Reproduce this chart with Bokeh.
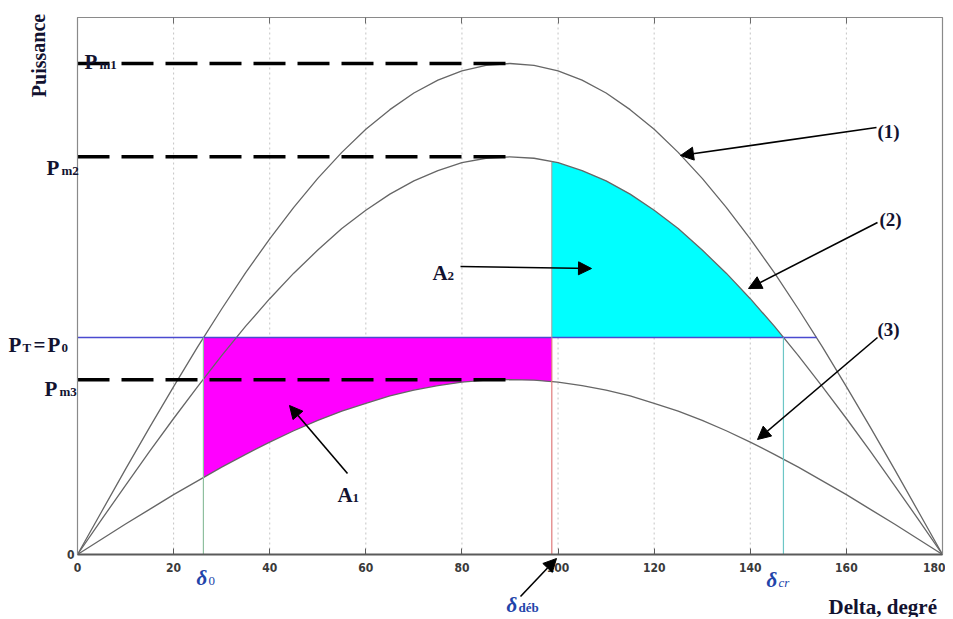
from bokeh.plotting import figure
from bokeh.models import Label, Arrow, NormalHead, FixedTicker, LinearAxis
from bokeh.embed import file_html
from bokeh.resources import INLINE

# ---------------- data ----------------
delta = list(range(0, 181, 5))
curve1 = [0.000, 0.087, 0.174, 0.259, 0.342, 0.423, 0.500, 0.574, 0.643, 0.707,
          0.766, 0.819, 0.866, 0.906, 0.940, 0.966, 0.985, 0.996, 1.000,
          0.996, 0.985, 0.966, 0.940, 0.906, 0.866, 0.819, 0.766, 0.707,
          0.643, 0.574, 0.500, 0.423, 0.342, 0.259, 0.174, 0.087, 0.000]
curve2 = [0.000, 0.071, 0.141, 0.210, 0.277, 0.342, 0.405, 0.465, 0.521, 0.573,
          0.620, 0.664, 0.701, 0.734, 0.761, 0.782, 0.798, 0.807, 0.810,
          0.807, 0.798, 0.782, 0.761, 0.734, 0.701, 0.664, 0.620, 0.573,
          0.521, 0.465, 0.405, 0.342, 0.277, 0.210, 0.141, 0.071, 0.000]
curve3 = [0.000, 0.031, 0.062, 0.092, 0.122, 0.150, 0.178, 0.204, 0.229, 0.252,
          0.273, 0.292, 0.308, 0.323, 0.335, 0.344, 0.351, 0.355, 0.356,
          0.355, 0.351, 0.344, 0.335, 0.323, 0.308, 0.292, 0.273, 0.252,
          0.229, 0.204, 0.178, 0.150, 0.122, 0.092, 0.062, 0.031, 0.000]
Pm1, Pm2, Pm3, P0 = 1.0, 0.81, 0.356, 0.442
delta_0, delta_deb, delta_cr, delta_pt_end = 26.2, 98.7, 146.9, 153.8
curve3_at_d0, curve3_at_deb, curve2_at_deb = 0.157, 0.352, 0.800
x_ticks = [0, 20, 40, 60, 80, 100, 120, 140, 160, 180]
y_ticks = [0]
X_MIN, X_MAX = 0, 180
Y_MIN, Y_MAX = 0, 537 / 491

# ---------------- layout: the frame fills the canvas so that texts in the
# margins are not clipped; the plot box sits inside it ----------------
W, H = 945, 617
BOX_L, BOX_R, BOX_T, BOX_B = 77, 942, 17, 554          # canvas pixels
sx = (BOX_R - BOX_L) / (X_MAX - X_MIN)
sy = (BOX_B - BOX_T) / (Y_MAX - Y_MIN)
x_range = (X_MIN - BOX_L / sx, X_MAX + (W - BOX_R) / sx)
y_range = (Y_MIN - (H - BOX_B) / sy, Y_MAX + BOX_T / sy)

p = figure(width=W, height=H, x_range=x_range, y_range=y_range,
           output_backend="svg", toolbar_location=None,
           x_axis_location=None, y_axis_location=None, min_border=0)
p.outline_line_color = None
p.background_fill_color = "white"
p.border_fill_color = "white"
p.xgrid.visible = False
p.ygrid.visible = False

# dotted vertical grid lines at the x ticks
grid_x = x_ticks[1:-1]
p.segment(x0=grid_x, y0=[Y_MIN] * len(grid_x), x1=grid_x, y1=[Y_MAX] * len(grid_x),
          line_color="#c4c4c4", line_dash="2 3", line_width=1)

TICK_FONT = "DejaVu Sans Condensed"

bottom = LinearAxis(ticker=FixedTicker(ticks=x_ticks), fixed_location=Y_MIN,
                    bounds=(X_MIN, X_MAX), major_tick_in=6, major_tick_out=0,
                    minor_tick_line_color=None, axis_line_color="#5a5a5a",
                    axis_line_width=2, major_tick_line_color="#5a5a5a",
                    major_label_text_font=TICK_FONT,
                    major_label_text_font_style="bold",
                    major_label_text_font_size="12px",
                    major_label_text_color="#3a3a3a", major_label_standoff=8)
p.add_layout(bottom, "below")

top = LinearAxis(ticker=FixedTicker(ticks=x_ticks), fixed_location=Y_MAX,
                 bounds=(X_MIN, X_MAX), major_tick_in=6, major_tick_out=0,
                 minor_tick_line_color=None, axis_line_color="#8a8a8a",
                 axis_line_width=1.2, major_tick_line_color="#6a6a6a",
                 major_label_overrides={t: "" for t in x_ticks},
                 major_label_standoff=0)
p.add_layout(top, "above")

left = LinearAxis(ticker=FixedTicker(ticks=y_ticks), fixed_location=X_MIN,
                  bounds=(Y_MIN, Y_MAX), major_tick_in=0, major_tick_out=0,
                  minor_tick_line_color=None, axis_line_color="#8a8a8a",
                  axis_line_width=1.2, major_label_text_font=TICK_FONT,
                  major_label_text_font_style="bold",
                  major_label_text_font_size="12px",
                  major_label_text_color="#3a3a3a", major_label_standoff=3)
p.add_layout(left, "left")

right = LinearAxis(ticker=FixedTicker(ticks=[]), fixed_location=X_MAX,
                   bounds=(Y_MIN, Y_MAX), major_tick_in=0, major_tick_out=0,
                   minor_tick_line_color=None, axis_line_color="#8a8a8a",
                   axis_line_width=1.2, major_label_text_font_size="0px")
p.add_layout(right, "right")

# ---------------- filled areas ----------------
mx = [delta_0] + [d for d in delta if delta_0 < d < delta_deb] + [delta_deb]
my = [curve3_at_d0] + [c for d, c in zip(delta, curve3) if delta_0 < d < delta_deb] + [curve3_at_deb]
p.varea(x=mx, y1=my, y2=[P0] * len(mx), fill_color="#ff00ff")

cx = [delta_deb] + [d for d in delta if delta_deb < d < delta_cr] + [delta_cr]
cy = [curve2_at_deb] + [c for d, c in zip(delta, curve2) if delta_deb < d < delta_cr] + [P0]
p.varea(x=cx, y1=[P0] * len(cx), y2=cy, fill_color="#00ffff")

# ---------------- curves ----------------
for c in (curve1, curve2, curve3):
    p.line(delta, c, line_color="#666666", line_width=1.3)

# P_T = P_0 line
p.line([X_MIN, delta_pt_end], [P0, P0], line_color="#4a4ad0", line_width=1.3)

# vertical markers
p.segment(x0=[delta_0], y0=[0], x1=[delta_0], y1=[P0], line_color="#8fbf9f", line_width=1.2)
p.segment(x0=[delta_deb], y0=[0], x1=[delta_deb], y1=[P0], line_color="#e07a7a", line_width=1.2)
p.segment(x0=[delta_deb], y0=[P0], x1=[delta_deb], y1=[curve2_at_deb], line_color="#a0a0a0", line_width=1)
p.segment(x0=[delta_cr], y0=[0], x1=[delta_cr], y1=[P0], line_color="#6cc6c6", line_width=1.2)

# dashed maximum lines
for pm in (Pm1, Pm2, Pm3):
    p.line([X_MIN, 90], [pm, pm], line_color="black", line_width=3.5, line_dash="32 12")

# ---------------- texts (canvas pixel placement) ----------------
TXT = "#121230"
BLUE = "#2244aa"


def lab(px, py, text, size=21, color=TXT, style="bold", font="Liberation Serif",
        align="left", baseline="alphabetic", angle=0):
    p.add_layout(Label(x=px, y=py, x_units="canvas", y_units="canvas", text=text,
                       text_font=font, text_font_style=style,
                       text_font_size=f"{size}px", text_color=color,
                       text_align=align, text_baseline=baseline, angle=angle))


# P labels with subscripts
lab(84, 61, "P"); lab(99, 64, "m1", size=13)
lab(46, 167, "P"); lab(61, 170, "m2", size=13)
lab(8, 344, "P"); lab(22, 347, "T", size=13)
lab(33, 344, "="); lab(47, 344, "P"); lab(61, 347, "0", size=13)
lab(44, 388, "P"); lab(59, 391, "m3", size=13)

# A labels
lab(337, 494, "A"); lab(352, 497, "1", size=13)
lab(432, 272, "A"); lab(447, 275, "2", size=13)

# curve numbers
lab(877, 131, "(1)", size=19)
lab(879, 219, "(2)", size=19)
lab(877, 329, "(3)", size=19)

# delta labels
lab(196, 577, "δ", size=21, color=BLUE, style="bold italic")
lab(208, 580, "0", size=13, color=BLUE, style="normal")
lab(766, 579, "δ", size=21, color=BLUE, style="bold italic")
lab(778, 582, "cr", size=13, color=BLUE, style="italic")
lab(506, 604, "δ", size=21, color=BLUE, style="bold italic")
lab(518, 607, "déb", size=13, color=BLUE, style="bold")

# axis titles
lab(828, 606, "Delta, degré", size=21)
lab(38, 55, "Puissance", size=20, align="center", baseline="alphabetic", angle=1.5708)

# ---------------- arrows ----------------


def arrow(x0, y0, x1, y1):
    p.add_layout(Arrow(end=NormalHead(size=13, fill_color="black", line_color="black"),
                       x_start=x0, y_start=y0, x_end=x1, y_end=y1,
                       start_units="canvas", end_units="canvas",
                       line_color="black", line_width=1.6))


arrow(347, 473, 289, 405)      # A1
arrow(460, 266, 591, 268)      # A2
arrow(876, 127, 680, 155)      # (1)
arrow(877, 222, 748, 288)      # (2)
arrow(877, 337, 757, 439)      # (3)
arrow(520, 596, 556, 558)      # delta_deb

open("out.html", "w").write(file_html(p, INLINE))
